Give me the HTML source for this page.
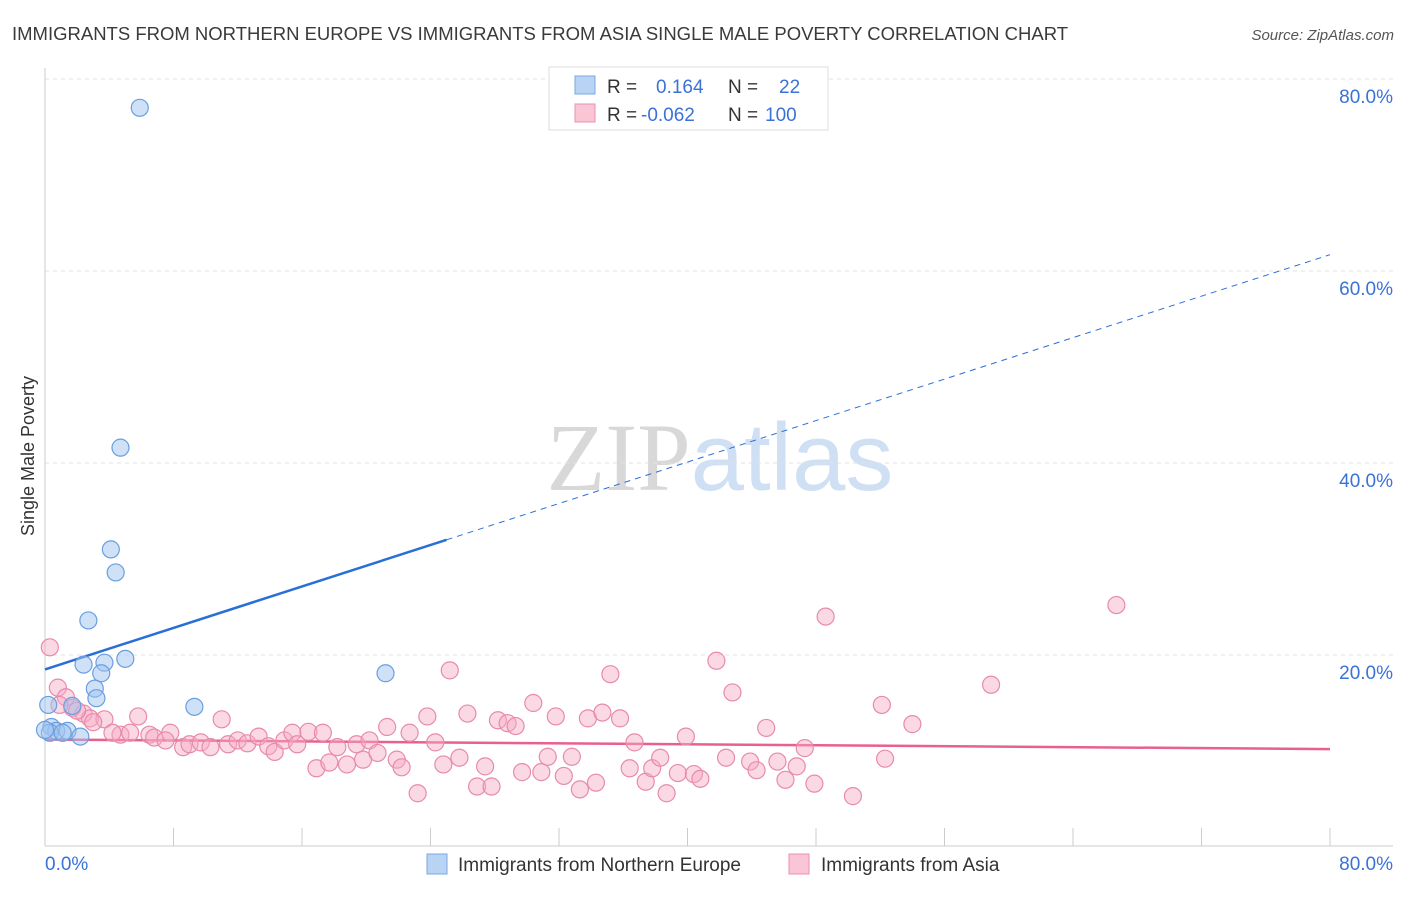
<!DOCTYPE html>
<html><head><meta charset="utf-8"><style>
body{margin:0;background:#fff;font-family:"Liberation Sans",sans-serif}
</style></head><body>
<svg id="chart" width="1406" height="892" viewBox="0 0 1406 892" xmlns="http://www.w3.org/2000/svg" font-family="Liberation Sans, sans-serif">
<text x="12" y="40" font-size="18.5" fill="#3a3a3a">IMMIGRANTS FROM NORTHERN EUROPE VS IMMIGRANTS FROM ASIA SINGLE MALE POVERTY CORRELATION CHART</text>
<text x="1394" y="40" font-size="15" fill="#555" text-anchor="end" font-style="italic">Source: ZipAtlas.com</text>
<text x="720" y="490" font-size="96" text-anchor="middle"><tspan fill="#d8d8d8" font-family="Liberation Serif, serif">ZIP</tspan><tspan fill="#cfe0f4">atlas</tspan></text>
<text transform="translate(34,456) rotate(-90)" font-size="18" fill="#333" text-anchor="middle">Single Male Poverty</text>
<g id="grid"></g><g id="axes"></g><g id="lines"></g><g id="pts"></g>
<g>
<rect x="549" y="67" width="279" height="63" fill="#fff" stroke="#ddd"/>
<rect x="575" y="76" width="20" height="18" fill="#b9d3f5" stroke="#7aa7e0"/>
<rect x="575" y="104" width="20" height="18" fill="#fac6d6" stroke="#e890b0"/>
<text x="607" y="93" font-size="19" fill="#333">R = <tspan fill="#3a72d8" x="656">0.164</tspan><tspan x="728">N =</tspan><tspan fill="#3a72d8" x="779">22</tspan></text>
<text x="607" y="121" font-size="19" fill="#333">R = <tspan fill="#3a72d8" x="641">-0.062</tspan><tspan x="728">N =</tspan><tspan fill="#3a72d8" x="765">100</tspan></text>
</g>
<g>
<rect x="427" y="854" width="20" height="20" fill="#b9d3f5" stroke="#7aa7e0"/>
<text x="458" y="871" font-size="19" fill="#333">Immigrants from Northern Europe</text>
<rect x="789" y="854" width="20" height="20" fill="#fac6d6" stroke="#e890b0"/>
<text x="821" y="871" font-size="19" fill="#333">Immigrants from Asia</text>
</g>
</svg>
<script>
const blueX=[5.9,4.7,4.1,4.4,2.7,5.0,2.4,3.7,3.5,3.1,3.2,1.7,21.2,9.3,0.4,0.7,1.4,2.2,0.3,0.2,1.1,0.0];
const blueY=[77.0,41.6,31.0,28.6,23.6,19.6,19.0,19.2,18.1,16.5,15.5,14.7,18.1,14.6,12.5,12.1,12.1,11.5,11.9,14.8,11.9,12.2];
const pinkX=[0.3,0.8,1.3,1.7,2.4,2.8,3.7,5.8,4.7,5.3,6.5,7.8,8.6,9.0,9.7,10.3,11.0,11.4,12.0,12.6,13.3,13.9,14.3,14.9,15.4,15.7,16.4,16.9,17.3,17.7,18.2,18.8,19.4,19.8,20.2,20.7,21.3,21.9,22.2,22.7,23.2,23.8,24.3,24.8,25.2,25.8,26.3,26.9,27.4,27.8,28.2,28.8,29.3,29.7,30.4,30.9,31.3,31.8,32.3,32.8,33.3,33.8,34.3,34.7,35.2,35.8,36.4,36.7,37.4,37.8,38.3,38.7,39.4,39.9,40.4,40.8,41.8,42.4,42.8,43.9,44.3,44.9,45.6,46.1,46.8,47.3,47.9,48.6,50.3,52.1,52.3,54.0,58.9,66.7,0.9,4.2,6.8,7.5,2.0,3.0];
const pinkY=[20.8,16.6,15.6,14.5,13.9,13.4,13.3,13.6,11.7,11.9,11.7,11.9,10.4,10.7,10.9,10.4,13.3,10.7,11.1,10.8,11.5,10.5,9.9,11.1,11.9,10.7,12.0,8.2,11.9,8.8,10.4,8.6,10.7,9.1,11.1,9.8,12.5,9.1,8.3,11.9,5.6,13.6,10.9,8.6,18.4,9.3,13.9,6.3,8.4,6.3,13.2,12.9,12.6,7.8,15.0,7.8,9.4,13.6,7.4,9.4,6.0,13.4,6.7,14.0,18.0,13.4,8.2,10.9,6.8,8.2,9.3,5.6,7.7,11.5,7.6,7.1,19.4,9.3,16.1,8.9,8.0,12.4,8.9,7.0,8.4,10.3,6.6,24.0,5.3,14.8,9.2,12.8,16.9,25.2,14.8,11.9,11.4,11.1,14.2,13.0];
const yTicks=[20,40,60,80];
const xTickLabels=["0.0%","80.0%"];
const blueTrend=[18.5,0.54];
const pinkTrend=[11.2,-0.0125];
const NS="http://www.w3.org/2000/svg";
const X=v=>45+v/80*1285, Y=v=>847-v*9.6;
function mk(tag,attrs,parent){const e=document.createElementNS(NS,tag);for(const k in attrs)e.setAttribute(k,attrs[k]);document.getElementById(parent).appendChild(e);return e;}
yTicks.forEach(t=>{
 const g=mk('line',{x1:45,x2:1393,y1:Y(t),y2:Y(t),stroke:'#e2e2e2','stroke-dasharray':'4,4'},'grid');
 
 
 const l=mk('text',{x:1393,y:Y(t)+24,'font-size':19,fill:'#3a72d8','text-anchor':'end'},'grid');
 l.textContent=t.toFixed(1)+'%';
 
 
});
const xa=mk('line',{x1:45,x2:1393,y1:846,y2:846,stroke:'#ccc'},'axes');


const ya=mk('line',{x1:45,x2:45,y1:68,y2:846,stroke:'#ccc'},'axes');


for(let i=0;i<=10;i++){const t=mk('line',{x1:X(i*8),x2:X(i*8),y1:828,y2:846,stroke:'#ccc'},'axes');
 
 }
const xl0=mk('text',{x:45,y:870,'font-size':19,fill:'#3a72d8'},'axes');xl0.textContent=xTickLabels[0];


const xl1=mk('text',{x:1393,y:870,'font-size':19,fill:'#3a72d8','text-anchor':'end'},'axes');xl1.textContent=xTickLabels[1];


const bt=v=>blueTrend[0]+blueTrend[1]*v, pt=v=>pinkTrend[0]+pinkTrend[1]*v;
const b1=mk('line',{x1:X(0),y1:Y(bt(0)),x2:X(25),y2:Y(bt(25)),stroke:'#2a6fd6','stroke-width':2.5},'lines');


const b2=mk('line',{x1:X(25),y1:Y(bt(25)),x2:X(80),y2:Y(bt(80)),stroke:'#2a6fd6','stroke-width':1,'stroke-dasharray':'6,5'},'lines');


const p1=mk('line',{x1:X(0),y1:Y(pt(0)),x2:X(80),y2:Y(pt(80)),stroke:'#e8608c','stroke-width':2.5},'lines');


pinkX.forEach((x,i)=>{const c=mk('circle',{cx:X(x),cy:Y(pinkY[i]),r:8.5,fill:'rgba(247,170,196,0.45)',stroke:'#e88aab','stroke-width':1.2},'pts');
 
 });
blueX.forEach((x,i)=>{const c=mk('circle',{cx:X(x),cy:Y(blueY[i]),r:8.5,fill:'rgba(160,195,240,0.5)',stroke:'#6a9fe0','stroke-width':1.2},'pts');
 
 });
</script>
</body></html>
